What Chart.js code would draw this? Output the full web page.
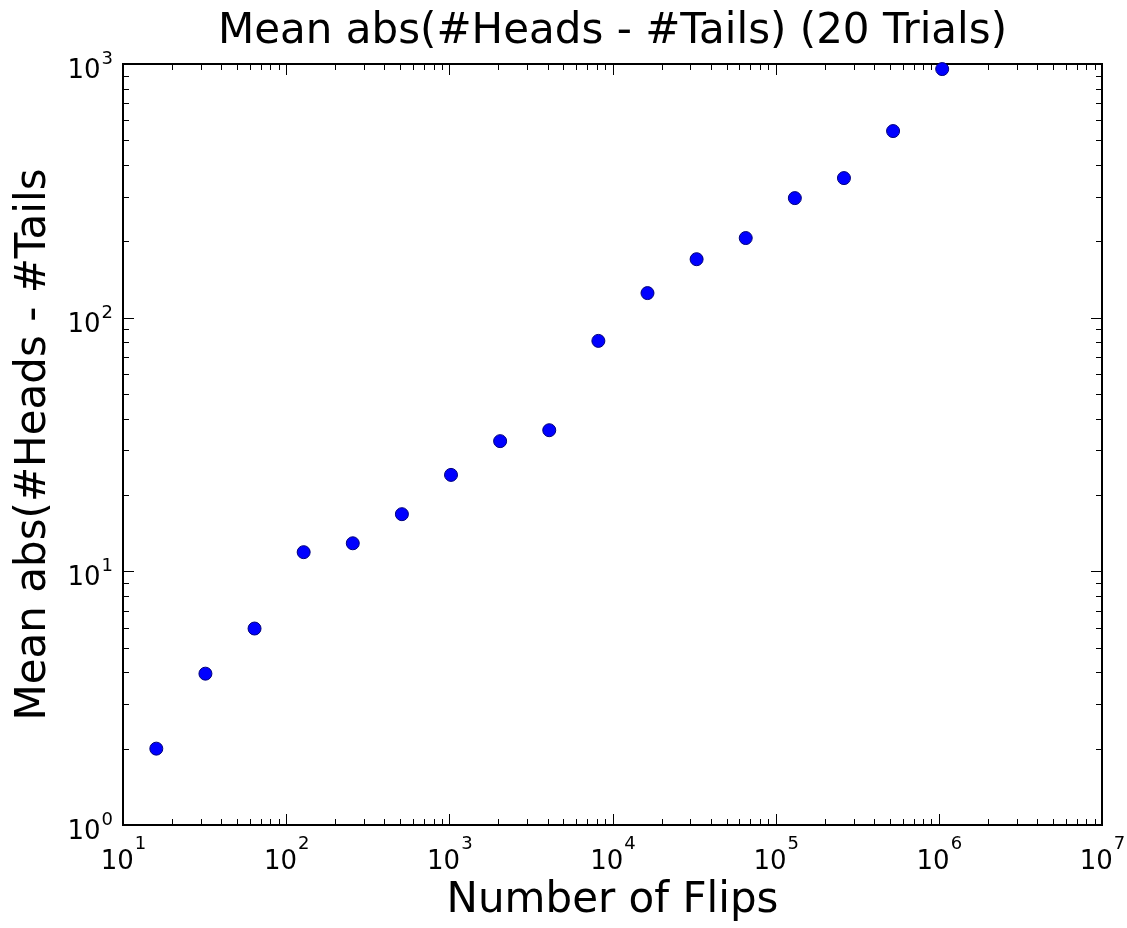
<!DOCTYPE html>
<html>
<head>
<meta charset="utf-8">
<script src="https://cdn.jsdelivr.net/npm/chart.js@4.4.0/dist/chart.umd.min.js"></script>
<style>
html, body { margin: 0; padding: 0; background: #fff; }
</style>
</head>
<body>
<canvas id="mycanvas" width="1127" height="928"></canvas>
<script>
// number of flips per run, and mean |heads - tails| over 20 trials
var flips = [16, 32, 64, 128, 256, 512, 1024, 2048, 4096, 8192, 16384, 32768, 65536, 131072, 262144, 524288, 1048576];
var meanAbsDiff = [2.0, 3.95, 5.95, 11.9, 12.9, 16.8, 24, 32.6, 36, 81, 125, 170, 206, 296, 355, 544, 955];
var xTickExps = [1, 2, 3, 4, 5, 6, 7];
var yTickExps = [0, 1, 2, 3];

Chart.defaults.font.family = "'DejaVu Sans', sans-serif";
Chart.defaults.color = '#000';

var points = [];
for (var i in flips) {
	points.push({x: flips[i], y: meanAbsDiff[i]});
}

function drawPow(ctx, exp, x, y10, yExp, align) {
	ctx.font = "26px 'DejaVu Sans'";
	var w10 = ctx.measureText('10').width;
	ctx.font = "18px 'DejaVu Sans'";
	var wExp = ctx.measureText(String(exp)).width;
	var start = align === 'center' ? x - (w10 + wExp) / 2 : x - (w10 + wExp);
	ctx.textAlign = 'left';
	ctx.textBaseline = 'alphabetic';
	ctx.font = "26px 'DejaVu Sans'";
	ctx.fillText('10', start, y10);
	ctx.font = "18px 'DejaVu Sans'";
	ctx.fillText(String(exp), start + w10 + 1, yExp);
}

// matplotlib style frame: inward ticks on all four sides
var axesFrame = {
	id: 'axesFrame',
	beforeDatasetsDraw: function(chart) {
		var ctx = chart.ctx, a = chart.chartArea;
		var xs = chart.scales.x, ys = chart.scales.y;
		ctx.save();
		ctx.strokeStyle = '#000';
		ctx.lineWidth = 1;
		ctx.beginPath();
		for (var d = 1; d < 7; d++) {
			for (var k = 1; k <= 10; k++) {
				var v = k * Math.pow(10, d);
				if (v < xs.min || v > xs.max) continue;
				var len = (k === 1 || k === 10) ? 11 : 6;
				var px = Math.round(xs.getPixelForValue(v)) + 0.5;
				ctx.moveTo(px, a.bottom); ctx.lineTo(px, a.bottom - len);
				ctx.moveTo(px, a.top); ctx.lineTo(px, a.top + len);
			}
		}
		for (var d = 0; d < 3; d++) {
			for (var k = 1; k <= 10; k++) {
				var v = k * Math.pow(10, d);
				if (v < ys.min || v > ys.max) continue;
				var len = (k === 1 || k === 10) ? 11 : 6;
				var py = Math.round(ys.getPixelForValue(v)) + 0.5;
				ctx.moveTo(a.left, py); ctx.lineTo(a.left + len, py);
				ctx.moveTo(a.right, py); ctx.lineTo(a.right - len, py);
			}
		}
		ctx.stroke();
		ctx.lineWidth = 2;
		ctx.strokeRect(a.left, a.top, a.right - a.left, a.bottom - a.top);
		ctx.restore();
	},
	afterDraw: function(chart) {
		var ctx = chart.ctx, a = chart.chartArea;
		var xs = chart.scales.x, ys = chart.scales.y;
		ctx.save();
		ctx.fillStyle = '#000';
		for (var i in xTickExps) {
			var px = xs.getPixelForValue(Math.pow(10, xTickExps[i]));
			drawPow(ctx, xTickExps[i], px, a.bottom + 44, a.bottom + 24, 'center');
		}
		for (var j in yTickExps) {
			var py = ys.getPixelForValue(Math.pow(10, yTickExps[j]));
			drawPow(ctx, yTickExps[j], a.left - 11, py + 14, py, 'right');
		}
		ctx.restore();
	}
};

var ctx = document.getElementById('mycanvas');

var chart = new Chart(ctx, {
	type: 'scatter',
	data: {
		datasets: [{
			data: points,
			backgroundColor: '#0000ff',
			borderColor: '#00007a',
			borderWidth: 1,
			pointRadius: 6.5,
			clip: false
		}]
	},
	options: {
		responsive: false,
		animation: false,
		layout: { padding: { left: 0, right: 25, top: 0, bottom: 0 } },
		plugins: {
			legend: { display: false },
			tooltip: { enabled: false },
			title: {
				display: true,
				fullSize: false,
				text: 'Mean abs(#Heads - #Tails) (20 Trials)',
				color: '#000',
				font: { size: 42, weight: 'normal', lineHeight: 1 },
				padding: { top: 11, bottom: 11 }
			}
		},
		scales: {
			x: {
				type: 'logarithmic',
				min: 10,
				max: 10000000,
				grid: { display: false },
				border: { display: false },
				ticks: { display: false },
				title: {
					display: true,
					text: 'Number of Flips',
					color: '#000',
					font: { size: 42, lineHeight: 1 },
					padding: { top: 0, bottom: 6 }
				},
				afterFit: function(scale) { scale.height = 103; }
			},
			y: {
				type: 'logarithmic',
				min: 1,
				max: 1000,
				grid: { display: false },
				border: { display: false },
				ticks: { display: false },
				title: {
					display: true,
					text: 'Mean abs(#Heads - #Tails',
					color: '#000',
					font: { size: 42, lineHeight: 1 },
					padding: { top: 13, bottom: 0 }
				},
				afterFit: function(scale) { scale.width = 123; }
			}
		}
	},
	plugins: [axesFrame]
});
</script>
</body>
</html>
